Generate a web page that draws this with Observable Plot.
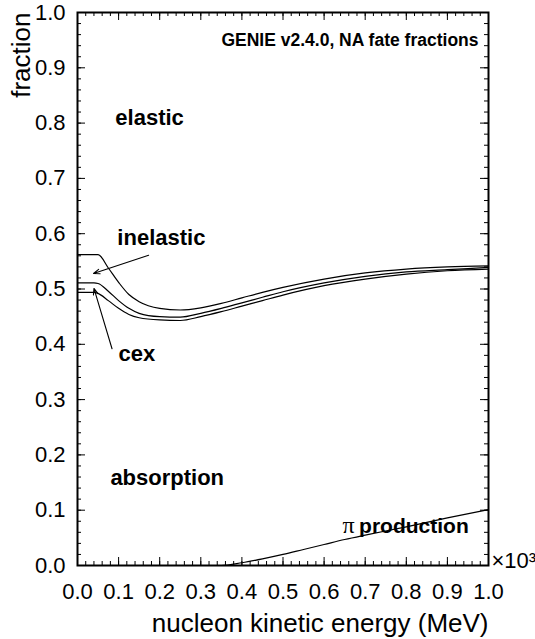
<!DOCTYPE html>
<html><head><meta charset="utf-8">
<script src="https://cdn.jsdelivr.net/npm/d3@7"></script>
<script src="https://cdn.jsdelivr.net/npm/@observablehq/plot@0.6"></script>
<style>html,body{margin:0;padding:0;background:#fff}</style>
</head><body><div id="chart"></div>
<script>
// nucleon kinetic energy, in units of 10^3 MeV
const energy = [0, 0.02, 0.04, 0.05, 0.075, 0.1, 0.125, 0.15, 0.2, 0.25, 0.3, 0.35, 0.4, 0.45, 0.5, 0.6, 0.7, 0.8, 0.9, 1.0];
// cumulative fate-fraction boundaries
const elasticLower   = [0.562,0.562,0.562,0.562,0.538,0.512,0.490,0.477,0.465,0.462,0.466,0.474,0.484,0.494,0.503,0.518,0.529,0.536,0.540,0.542];
const inelasticLower = [0.511,0.511,0.511,0.510,0.496,0.479,0.465,0.456,0.450,0.449,0.456,0.465,0.475,0.485,0.495,0.511,0.523,0.531,0.535,0.539];
const cexLower       = [0.494,0.494,0.494,0.492,0.479,0.465,0.454,0.448,0.444,0.443,0.450,0.459,0.469,0.479,0.489,0.506,0.518,0.527,0.533,0.536];
const pionEnergy     = [0, 0.1, 0.2, 0.3, 0.35, 0.4, 0.45, 0.5, 0.55, 0.6, 0.65, 0.7, 0.8, 0.9, 1.0];
const pionProduction = [0, 0, 0, 0, 0, 0.005, 0.012, 0.020, 0.029, 0.038, 0.047, 0.055, 0.070, 0.086, 0.101];

const xTickValues = [0, 0.1, 0.2, 0.3, 0.4, 0.5, 0.6, 0.7, 0.8, 0.9, 1.0];
const yTickValues = [0, 0.1, 0.2, 0.3, 0.4, 0.5, 0.6, 0.7, 0.8, 0.9, 1.0];
const minorStep = 0.02;

const regionLabels = ["elastic", "inelastic", "cex", "absorption"];
const regionLabelX = [0.092, 0.097, 0.100, 0.080];
const regionLabelY = [0.797, 0.580, 0.369, 0.145];

const arrowFromX = [0.173, 0.084];
const arrowFromY = [0.561, 0.392];
const arrowToX   = [0.039, 0.040];
const arrowToY   = [0.528, 0.501];

const title = "GENIE v2.4.0, NA fate fractions";
const xLabel = "nucleon kinetic energy (MeV)";
const yLabel = "fraction";
const xMultiplier = "×10³";

// build tables
const curves = [];
[["elastic", elasticLower], ["inelastic", inelasticLower], ["cex", cexLower]].forEach(([name, vals]) =>
  energy.forEach((e, i) => curves.push({series: name, e, v: vals[i]})));
pionEnergy.forEach((e, i) => curves.push({series: "pion", e, v: pionProduction[i]}));
const labels = regionLabels.map((t, i) => ({t, x: regionLabelX[i], y: regionLabelY[i]}));
const arrows = arrowFromX.map((d, i) => ({x1: d, y1: arrowFromY[i], x2: arrowToX[i], y2: arrowToY[i]}));
const minor = d3.range(0, 1 + 1e-9, minorStep);

const W = 535, H = 639, mL = 77, mR = 47, mT = 12, mB = 74;
const fw = W - mL - mR, fh = H - mT - mB;
const font = "'Liberation Sans', Arial, Helvetica, sans-serif";

const chart = Plot.plot({
  width: W, height: H,
  marginLeft: mL, marginRight: mR, marginTop: mT, marginBottom: mB,
  x: {domain: [0, 1]},
  y: {domain: [0, 1]},
  style: {fontFamily: font, background: "#fff", color: "#000"},
  marks: [
    Plot.line(curves, {x: "e", y: "v", z: "series", curve: "monotone-x", stroke: "#000", strokeWidth: 1.2}),
    // ticks (inward, all four sides)
    Plot.ruleX(minor, {insetTop: fh - 4, stroke: "#000"}),
    Plot.ruleX(minor, {insetBottom: fh - 4, stroke: "#000"}),
    Plot.ruleX(xTickValues, {insetTop: fh - 8, stroke: "#000"}),
    Plot.ruleX(xTickValues, {insetBottom: fh - 8, stroke: "#000"}),
    Plot.ruleY(minor, {insetRight: fw - 4, stroke: "#000"}),
    Plot.ruleY(minor, {insetLeft: fw - 4, stroke: "#000"}),
    Plot.ruleY(yTickValues, {insetRight: fw - 8, stroke: "#000"}),
    Plot.ruleY(yTickValues, {insetLeft: fw - 8, stroke: "#000"}),
    Plot.frame({stroke: "#000", strokeWidth: 2}),
    Plot.axisX(xTickValues, {tickSize: 0, tickPadding: 18, tickFormat: d => d.toFixed(1), fontSize: 22, label: null}),
    Plot.axisY(yTickValues, {tickSize: 0, tickPadding: 12, tickFormat: d => d.toFixed(1), fontSize: 22, label: null}),
    Plot.text([xMultiplier], {frameAnchor: "bottom-right", textAnchor: "start", lineAnchor: "bottom", dx: 3, dy: 2, fontSize: 22}),
    Plot.text([xLabel], {frameAnchor: "bottom-right", textAnchor: "end", lineAnchor: "bottom", dy: 66, fontSize: 26}),
    Plot.text([yLabel], {frameAnchor: "top-left", textAnchor: "end", lineAnchor: "bottom", rotate: -90, dx: -48, fontSize: 26}),
    Plot.text([title], {frameAnchor: "top-right", textAnchor: "end", lineAnchor: "bottom", dx: -10, dy: 33, fontSize: 17.5, fontWeight: "bold"}),
    Plot.text(labels, {x: "x", y: "y", text: "t", textAnchor: "start", lineAnchor: "bottom", fontSize: 22, fontWeight: "bold"}),
    Plot.text(["π"], {x: () => 0.645, y: () => 0.058, textAnchor: "start", lineAnchor: "bottom", fontSize: 24, fontFamily: "'Liberation Serif', serif"}),
    Plot.text(["production"], {x: () => 0.952, y: () => 0.058, textAnchor: "end", lineAnchor: "bottom", fontSize: 21, fontWeight: "bold"}),
    Plot.arrow(arrows, {x1: "x1", y1: "y1", x2: "x2", y2: "y2", headLength: 9, headAngle: 42, stroke: "#000", strokeWidth: 1.1})
  ]
});
document.getElementById("chart").appendChild(chart);
</script>
</body></html>
